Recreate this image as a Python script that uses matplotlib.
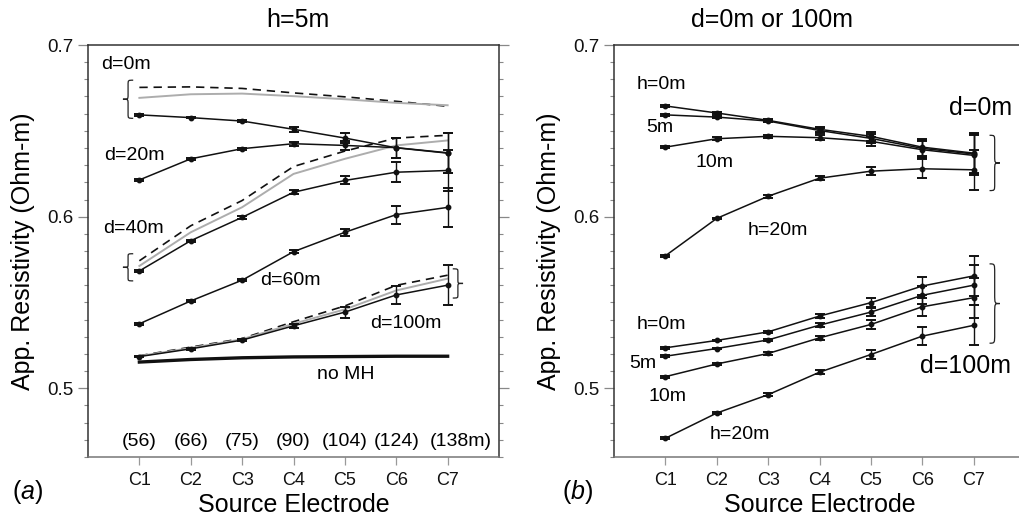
import matplotlib
matplotlib.use("Agg")
import matplotlib.pyplot as plt
from matplotlib.path import Path
from matplotlib.patches import PathPatch
from matplotlib.ticker import FixedLocator, MultipleLocator

plt.rcParams['font.family'] = ['Liberation Sans', 'DejaVu Sans']
plt.rcParams['mathtext.fontset'] = 'custom'
plt.rcParams['mathtext.it'] = 'Liberation Sans:italic'
plt.rcParams['mathtext.rm'] = 'Liberation Sans'

# ---------------- data ----------------
electrodes = ["C1", "C2", "C3", "C4", "C5", "C6", "C7"]
dist_labels = ["(56)", "(66)", "(75)", "(90)", "(104)", "(124)", "(138m)"]

# panel (a): h = 5m
a_d0_dashed = [0.6753, 0.6756, 0.6747, 0.6721, 0.6698, 0.6672, 0.6643]
a_d0_gray = [0.6692, 0.6713, 0.6717, 0.6702, 0.6684, 0.6663, 0.6649]
a_d0 = [0.6593, 0.6577, 0.6557, 0.6509, 0.6458, 0.6401, 0.6370]
a_d0_err = [0.0004, 0.0004, 0.0006, 0.0016, 0.0028, 0.0060, 0.0117]
a_d20 = [0.6214, 0.6337, 0.6396, 0.6425, 0.6415, 0.6402, 0.6372]
a_d20_err = [0.0004, 0.0004, 0.0006, 0.0012, 0.0025, 0.0058, 0.0117]
a_d40_dashed = [0.5743, 0.5947, 0.6094, 0.6292, 0.6382, 0.6458, 0.6474]
a_d40_gray = [0.5713, 0.5909, 0.6055, 0.6249, 0.6337, 0.6415, 0.6444]
a_d40 = [0.5684, 0.5860, 0.5996, 0.6142, 0.6211, 0.6259, 0.6269]
a_d40_err = [0.0005, 0.0005, 0.0007, 0.0012, 0.0023, 0.0057, 0.0117]
a_d60 = [0.5376, 0.5509, 0.5630, 0.5796, 0.5909, 0.6012, 0.6054]
a_d60_err = [0.0005, 0.0005, 0.0007, 0.0010, 0.0020, 0.0053, 0.0115]
a_d100_dashed = [0.5190, 0.5240, 0.5290, 0.5388, 0.5480, 0.5600, 0.5659]
a_d100_gray = [0.5188, 0.5235, 0.5286, 0.5376, 0.5460, 0.5570, 0.5639]
a_d100 = [0.5185, 0.5230, 0.5281, 0.5364, 0.5444, 0.5544, 0.5601]
a_d100_err = [0.0005, 0.0005, 0.0007, 0.0012, 0.0032, 0.0053, 0.0117]
a_noMH = [0.5153, 0.5168, 0.5178, 0.5183, 0.5185, 0.5187, 0.5187]

# panel (b): d = 0m or 100m
b_d0_h0 = [0.6645, 0.6604, 0.6561, 0.6509, 0.6468, 0.6405, 0.6370]
b_d0_h5 = [0.6593, 0.6580, 0.6557, 0.6502, 0.6456, 0.6398, 0.6365]
b_d0_h10 = [0.6405, 0.6454, 0.6468, 0.6460, 0.6439, 0.6390, 0.6357]
b_d0_h20 = [0.5772, 0.5990, 0.6119, 0.6224, 0.6265, 0.6279, 0.6273]
b_d0_err = [0.0004, 0.0008, 0.0008, 0.0015, 0.0025, 0.0050, 0.0117]
b_d0_h20_err = [0.0005, 0.0005, 0.0008, 0.0012, 0.0022, 0.0055, 0.0117]
b_d100_h0 = [0.5236, 0.5279, 0.5329, 0.5421, 0.5499, 0.5596, 0.5655]
b_d100_h5 = [0.5187, 0.5232, 0.5282, 0.5368, 0.5444, 0.5542, 0.5601]
b_d100_h10 = [0.5068, 0.5142, 0.5203, 0.5294, 0.5372, 0.5475, 0.5528]
b_d100_h20 = [0.4709, 0.4856, 0.4963, 0.5094, 0.5197, 0.5304, 0.5367]
b_d100_err = [0.0005, 0.0005, 0.0007, 0.0012, 0.0025, 0.0053, 0.0117]

x = list(range(1, len(electrodes) + 1))

GRAY = '#adadad'
DASH = (0, (5, 3.5))
LAB = 14
BIG = 18


def brace(ax, x_open, x_tip, y0, y1):
    xm = (x_open + x_tip) / 2
    ym = (y0 + y1) / 2
    q = 0.12 * (y1 - y0)
    verts = [(x_open, y1), (xm, y1), (xm, y1), (xm, y1 - q),
             (xm, ym + q),
             (xm, ym), (xm, ym), (x_tip, ym),
             (xm, ym), (xm, ym), (xm, ym - q),
             (xm, y0 + q),
             (xm, y0), (xm, y0), (x_open, y0)]
    codes = [Path.MOVETO, Path.CURVE4, Path.CURVE4, Path.CURVE4,
             Path.LINETO,
             Path.CURVE4, Path.CURVE4, Path.CURVE4,
             Path.CURVE4, Path.CURVE4, Path.CURVE4,
             Path.LINETO,
             Path.CURVE4, Path.CURVE4, Path.CURVE4]
    ax.add_patch(PathPatch(Path(verts, codes), fill=False, lw=0.9,
                           color='#222222', clip_on=False))


def meas(ax, vals, err):
    ax.errorbar(x, vals, yerr=err, color='#111111', lw=1.1, marker='o',
                ms=3.2, capsize=3.3, capthick=1.4, elinewidth=1.0, zorder=3)


def style(ax):
    ax.set_xlim(0, 8)
    ax.set_ylim(0.46, 0.70)
    ax.xaxis.set_major_locator(FixedLocator(x))
    ax.set_xticklabels(electrodes, fontsize=13)
    ax.yaxis.set_major_locator(FixedLocator([0.5, 0.6, 0.7]))
    ax.set_yticklabels(["0.5", "0.6", "0.7"], fontsize=13.5)
    ax.yaxis.set_minor_locator(MultipleLocator(0.01))
    ax.tick_params(axis='y', which='both', direction='out', left=True,
                   right=True, colors='#888888', labelcolor='#111111')
    ax.tick_params(axis='y', which='major', length=7, width=0.9)
    ax.tick_params(axis='y', which='minor', length=3, width=0.8)
    ax.tick_params(axis='x', which='major', direction='out', length=6,
                   width=0.9, colors='#999999', labelcolor='#111111', pad=5)
    for s in ['left', 'right', 'top']:
        ax.spines[s].set_color('#333333')
        ax.spines[s].set_linewidth(1.1)
    ax.spines['bottom'].set_color('#777777')
    ax.spines['bottom'].set_linewidth(1.1)
    ax.set_ylabel("App. Resistivity (Ohm-m)", fontsize=BIG, labelpad=9)
    ax.set_xlabel("Source Electrode", fontsize=BIG, labelpad=3)


fig = plt.figure(figsize=(10.19, 5.21), dpi=100)
W, H = 1019.0, 521.0
axA = fig.add_axes([88 / W, (H - 457) / H, 411 / W, 412 / H])
axB = fig.add_axes([614 / W, (H - 457) / H, 411 / W, 412 / H])

# ---------- panel (a) ----------
ax = axA
ax.plot(x, a_noMH, color='#111111', lw=2.4, zorder=2)
for d, g, m, e in [(a_d0_dashed, a_d0_gray, a_d0, a_d0_err),
                   (a_d40_dashed, a_d40_gray, a_d40, a_d40_err),
                   (a_d100_dashed, a_d100_gray, a_d100, a_d100_err)]:
    ax.plot(x, d, color='#111111', lw=1.2, linestyle=DASH, zorder=2)
    ax.plot(x, g, color=GRAY, lw=1.4, zorder=2)
    meas(ax, m, e)
meas(ax, a_d20, a_d20_err)
meas(ax, a_d60, a_d60_err)
style(ax)

ax.text(0.74, 0.6889, "d=0m", fontsize=LAB, ha='center', va='center')
ax.text(0.90, 0.6357, "d=20m", fontsize=LAB, ha='center', va='center')
ax.text(0.88, 0.5930, "d=40m", fontsize=LAB, ha='center', va='center')
ax.text(3.93, 0.5626, "d=60m", fontsize=LAB, ha='center', va='center')
ax.text(6.19, 0.5380, "d=100m", fontsize=LAB, ha='center', va='center')
ax.text(5.02, 0.5082, "no MH", fontsize=LAB, ha='center', va='center')
for xi, lab in zip(x, dist_labels):
    off = 9.5 if lab.endswith("m)") else 0
    ax.annotate(lab, (xi, 0.469), xytext=(off, 0), textcoords='offset points',
                fontsize=LAB, ha='center', va='center')
brace(ax, 0.88, 0.68, 0.6573, 0.6795)
brace(ax, 0.88, 0.68, 0.5626, 0.5784)
brace(ax, 7.10, 7.30, 0.5526, 0.5696)

# ---------- panel (b) ----------
ax = axB
meas(ax, b_d0_h0, b_d0_err)
meas(ax, b_d0_h5, b_d0_err)
meas(ax, b_d0_h10, b_d0_err)
meas(ax, b_d0_h20, b_d0_h20_err)
meas(ax, b_d100_h0, b_d100_err)
meas(ax, b_d100_h5, b_d100_err)
meas(ax, b_d100_h10, b_d100_err)
meas(ax, b_d100_h20, b_d100_err)
style(ax)

ax.text(0.93, 0.6770, "h=0m", fontsize=LAB, ha='center', va='center')
ax.text(0.90, 0.6520, "5m", fontsize=LAB, ha='center', va='center')
ax.text(1.95, 0.6316, "10m", fontsize=LAB, ha='center', va='center')
ax.text(3.19, 0.5918, "h=20m", fontsize=LAB, ha='center', va='center')
ax.text(7.14, 0.6632, "d=0m", fontsize=BIG, ha='center', va='center')
ax.text(0.93, 0.5374, "h=0m", fontsize=LAB, ha='center', va='center')
ax.text(0.56, 0.5146, "5m", fontsize=LAB, ha='center', va='center')
ax.text(1.05, 0.4953, "10m", fontsize=LAB, ha='center', va='center')
ax.text(2.45, 0.4731, "h=20m", fontsize=LAB, ha='center', va='center')
ax.text(6.85, 0.5129, "d=100m", fontsize=BIG, ha='center', va='center')
brace(ax, 7.31, 7.51, 0.6152, 0.6474)
brace(ax, 7.31, 7.51, 0.5263, 0.5725)

# titles and panel letters
fig.text(298 / W, 1 - 20 / H, "h=5m", fontsize=BIG, ha='center', va='center')
fig.text(772 / W, 1 - 20 / H, "d=0m or 100m", fontsize=BIG, ha='center', va='center')
fig.text(28 / W, 1 - 492 / H, r"($\mathit{a}$)", fontsize=BIG, ha='center', va='center')
fig.text(578 / W, 1 - 492 / H, r"($\mathit{b}$)", fontsize=BIG, ha='center', va='center')

fig.savefig("out.png", dpi=100)
